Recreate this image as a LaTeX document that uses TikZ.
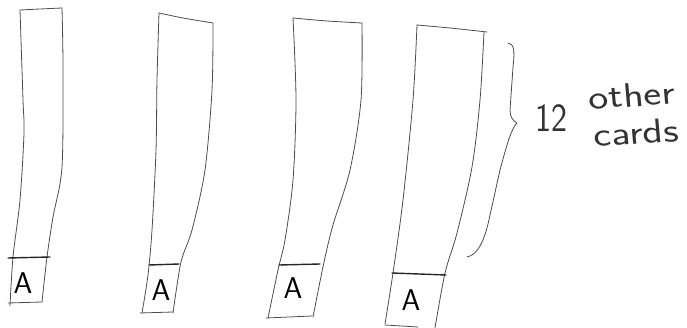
\documentclass[tikz,border=0pt]{standalone}
\usetikzlibrary{positioning}
\begin{document}
\begin{tikzpicture}[x=1pt,y=-1pt,
  pencil/.style={black!70,line width=.8pt,line cap=round,line join=round},
  rule/.style={black!85,line width=1.4pt,line cap=round},
  cardlabel/.style={font=\fontsize{30}{30}\selectfont\sffamily,inner sep=0pt},
  hand/.style={font=\fontsize{34}{34}\selectfont\sffamily,inner sep=0pt,black!80,xscale=1.25}]
\useasboundingbox (0,0) rectangle (687,328);
% card 1
\draw[pencil] plot[smooth] coordinates {(20,10) (40,9) (62,8)};
\draw[pencil] plot[smooth] coordinates {(20,10) (23,100) (24,133) (20,200) (13,257) (10,306)};
\draw[pencil] plot[smooth] coordinates {(62,8) (63,67) (62,167) (53,217) (47,257) (42,302)};
\draw[rule] (8,258) -- (50,257);
\draw[pencil] (8,303) -- (42,302);
% card 2
\draw[pencil] plot[smooth] coordinates {(159,13) (183,18) (213,23)};
\draw[pencil] plot[smooth] coordinates {(159,13) (157,80) (156,150) (152,230) (148,275) (142,313)};
\draw[pencil] plot[smooth] coordinates {(213,23) (212,90) (205,170) (192,230) (181,262) (173,313)};
\draw[rule] (149,265) -- (179,264);
\draw[pencil] (140,313) -- (173,312);
% card 3
\draw[pencil] plot[smooth] coordinates {(293,18) (327,21) (362,23)};
\draw[pencil] plot[smooth] coordinates {(293,18) (296,100) (293,180) (285,240) (278,270) (268,318)};
\draw[pencil] plot[smooth] coordinates {(362,23) (361,100) (350,170) (333,225) (324,262) (313,317)};
\draw[rule] (279,265) -- (320,264);
\draw[pencil] (266,318) -- (312,316);
% card 4
\draw[pencil] plot[smooth] coordinates {(417,25) (450,28) (487,32)};
\draw[pencil] plot[smooth] coordinates {(417,25) (413,100) (403,200) (393,273) (385,324)};
\draw[pencil] plot[smooth] coordinates {(484,32) (480,100) (472,167) (457,233) (445,273) (435,328)};
\draw[rule] (392,273) -- (446,275);
\draw[pencil] (385,325) -- (418,327);
\foreach \n/\x/\y in {1/23/283,2/161/290,3/293/288,4/411/300}
  \node[cardlabel] (a\n) at (\x,\y) {A};
% brace
\draw[pencil] (508,43) .. controls (514,44) and (515,50) .. (513,67)
  -- (510,110) .. controls (510,117) and (513,121) .. (517,123)
  .. controls (512,128) and (508,140) .. (500,170)
  -- (490,215) .. controls (485,240) and (478,255) .. (467,257);
\node[font=\fontsize{40}{40}\selectfont\sffamily,inner sep=0pt,black!80,xscale=.85] (twelve) at (551,118) {12};
\node[hand,rotate=4] (other) at (632,95) {other};
\node[hand,rotate=4] (cards) at (636,132) {cards};
\end{tikzpicture}
\end{document}
